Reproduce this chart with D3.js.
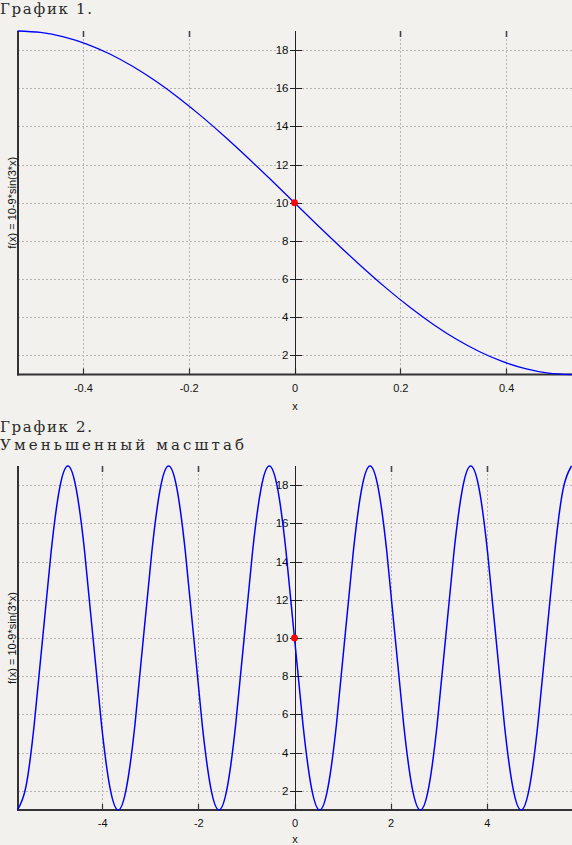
<!DOCTYPE html>
<html><head><meta charset="utf-8">
<script src="https://cdn.jsdelivr.net/npm/d3@7"></script>
<style>
html,body{margin:0;padding:0;background:#f2f1ed;}
svg{display:block;}
</style></head>
<body>
<svg id="c" width="572" height="845"></svg>
<script>
// ---- data ----
const titles1 = ["График 1."];
const titles2 = ["График 2.", "Уменьшенный масштаб"];
const yLabel = "f(x) = 10-9*sin(3*x)";
const xLabel = "x";

const x1Ticks = [-0.4, -0.2, 0, 0.2, 0.4];
const y1Ticks = [2, 4, 6, 8, 10, 12, 14, 16, 18];
const x1Vals = [-0.5236, -0.4800, -0.4363, -0.3927, -0.3491, -0.3054, -0.2618, -0.2182, -0.1745, -0.1309, -0.0873, -0.0436,
  0, 0.0436, 0.0873, 0.1309, 0.1745, 0.2182, 0.2618, 0.3054, 0.3491, 0.3927, 0.4363, 0.4800, 0.5236];
const y1Vals = [19, 18.923, 18.693, 18.315, 17.794, 17.140, 16.364, 15.479, 14.5, 13.444, 12.329, 11.175,
  10, 8.825, 7.671, 6.556, 5.5, 4.521, 3.636, 2.860, 2.206, 1.685, 1.307, 1.077, 1];

const x2Ticks = [-4, -2, 0, 2, 4];
const y2Ticks = [2, 4, 6, 8, 10, 12, 14, 16, 18];
const x2Vals = [-5.760, -5.585, -5.411, -5.236, -5.061, -4.887, -4.712, -4.538, -4.363, -4.189, -4.014, -3.840,
  -3.665, -3.491, -3.316, -3.142, -2.967, -2.793, -2.618, -2.443, -2.269, -2.094, -1.920, -1.745,
  -1.571, -1.396, -1.222, -1.047, -0.873, -0.698, -0.524, -0.349, -0.175, 0,
  0.175, 0.349, 0.524, 0.698, 0.873, 1.047, 1.222, 1.396, 1.571, 1.745, 1.920, 2.094,
  2.269, 2.443, 2.618, 2.793, 2.967, 3.142, 3.316, 3.491, 3.665, 3.840, 4.014, 4.189,
  4.363, 4.538, 4.712, 4.887, 5.061, 5.236, 5.411, 5.585, 5.760];
const y2Vals = [1, 2.21, 5.5, 10, 14.5, 17.79, 19, 17.79, 14.5, 10, 5.5, 2.21,
  1, 2.21, 5.5, 10, 14.5, 17.79, 19, 17.79, 14.5, 10, 5.5, 2.21,
  1, 2.21, 5.5, 10, 14.5, 17.79, 19, 17.79, 14.5, 10,
  5.5, 2.21, 1, 2.21, 5.5, 10, 14.5, 17.79, 19, 17.79, 14.5, 10,
  5.5, 2.21, 1, 2.21, 5.5, 10, 14.5, 17.79, 19, 17.79, 14.5, 10,
  5.5, 2.21, 1, 2.21, 5.5, 10, 14.5, 17.79, 19];
const markPoint = [0, 10];

const svg = d3.select("#c");

function titleBlock(lines, baselines, widths) {
  lines.forEach((t, i) => {
    svg.append("text").attr("x", 0).attr("y", baselines[i])
      .attr("font-family", "DejaVu Serif, serif").attr("font-size", 15)
      .attr("fill", "#2a2a2a")
      .attr("textLength", widths[i]).attr("lengthAdjust", "spacing")
      .text(t);
  });
}

function plot(cfg) {
  const x = d3.scaleLinear().domain(cfg.xDomain).range([17.5, 571.5]);
  const y = d3.scaleLinear().domain([1, 19]).range([cfg.bottom, cfg.top]);
  const g = svg.append("g");
  const x0 = x(0);

  // grid
  g.selectAll(".hg").data(cfg.yTicks).join("line")
    .attr("x1", 18).attr("x2", 572).attr("y1", d => Math.round(y(d)) + 0.5).attr("y2", d => Math.round(y(d)) + 0.5)
    .attr("stroke", "#b4b4b0").attr("stroke-width", 1).attr("stroke-dasharray", "2,2");
  g.selectAll(".vg").data(cfg.xTicks.filter(d => d !== 0)).join("line")
    .attr("x1", d => Math.round(x(d)) + 0.5).attr("x2", d => Math.round(x(d)) + 0.5)
    .attr("y1", cfg.top).attr("y2", cfg.bottom)
    .attr("stroke", "#b4b4b0").attr("stroke-width", 1).attr("stroke-dasharray", "2,2");

  // top & bottom x ticks (inward)
  g.selectAll(".tt").data(cfg.xTicks.filter(d => d !== 0)).join("line")
    .attr("x1", d => Math.round(x(d)) + 0.5).attr("x2", d => Math.round(x(d)) + 0.5)
    .attr("y1", cfg.top).attr("y2", cfg.top + 6)
    .attr("stroke", "#444").attr("stroke-width", 1.6);
  g.selectAll(".bt").data(cfg.xTicks).join("line")
    .attr("x1", d => Math.round(x(d)) + 0.5).attr("x2", d => Math.round(x(d)) + 0.5)
    .attr("y1", cfg.bottom).attr("y2", cfg.bottom - 6)
    .attr("stroke", "#333").attr("stroke-width", 1.2);

  // central y axis
  g.append("line").attr("x1", Math.round(x0) + 0.5).attr("x2", Math.round(x0) + 0.5)
    .attr("y1", cfg.top).attr("y2", cfg.bottom).attr("stroke", "#222").attr("stroke-width", 1);
  g.selectAll(".yt").data(cfg.yTicks).join("line")
    .attr("x1", Math.round(x0) - 5).attr("x2", Math.round(x0) + 7)
    .attr("y1", d => Math.round(y(d)) + 0.5).attr("y2", d => Math.round(y(d)) + 0.5)
    .attr("stroke", "#222").attr("stroke-width", 1);
  g.selectAll(".yl").data(cfg.yTicks).join("text")
    .attr("x", Math.round(x0) - 6.5).attr("y", d => y(d) + 4)
    .attr("text-anchor", "end").attr("font-family", "Liberation Sans, Arial, sans-serif")
    .attr("font-size", 11.5).attr("fill", "#111").text(d => d);

  // frame: left and bottom
  g.append("line").attr("x1", 18).attr("x2", 18).attr("y1", cfg.top).attr("y2", cfg.bottom + 1)
    .attr("stroke", "#333").attr("stroke-width", 2);
  g.append("line").attr("x1", 17).attr("x2", 572).attr("y1", cfg.bottom).attr("y2", cfg.bottom)
    .attr("stroke", "#333").attr("stroke-width", 2);

  // x tick labels
  g.selectAll(".xl").data(cfg.xTicks).join("text")
    .attr("x", d => x(d) + 0.5).attr("y", cfg.bottom + 17)
    .attr("text-anchor", "middle").attr("font-family", "Liberation Sans, Arial, sans-serif")
    .attr("font-size", 11).attr("fill", "#111").text(d => d);

  // axis titles
  g.append("text").attr("x", x0 + 0.5).attr("y", cfg.bottom + cfg.xLabelOff)
    .attr("text-anchor", "middle").attr("font-family", "Liberation Sans, Arial, sans-serif")
    .attr("font-size", 11).attr("fill", "#111").text(xLabel);
  g.append("text").attr("transform", `translate(16,${y(10)}) rotate(-90)`)
    .attr("text-anchor", "middle").attr("font-family", "Liberation Sans, Arial, sans-serif")
    .attr("font-size", 11).attr("fill", "#111").text(yLabel);

  // curve
  const pts = cfg.xs.map((v, i) => [v, cfg.ys[i]]);
  g.append("path").datum(pts)
    .attr("d", d3.line().x(d => x(d[0])).y(d => y(d[1])).curve(d3.curveNatural))
    .attr("fill", "none").attr("stroke", "#0000ff").attr("stroke-width", cfg.lw);

  // marked point
  g.append("circle").attr("cx", x(markPoint[0])).attr("cy", y(markPoint[1])).attr("r", 3.4)
    .attr("fill", "#ff0000");
}

titleBlock(titles1, [13.5], [92]);
plot({xDomain: [-0.5236, 0.5236], top: 31, bottom: 374.5, xTicks: x1Ticks, yTicks: y1Ticks, xs: x1Vals, ys: y1Vals, lw: 1.3, xLabelOff: 35});
titleBlock(titles2, [431.5, 449.5], [92, 244]);
plot({xDomain: [-5.7596, 5.7596], top: 466, bottom: 810, xTicks: x2Ticks, yTicks: y2Ticks, xs: x2Vals, ys: y2Vals, lw: 1.5, xLabelOff: 32.5});
</script>
</body></html>
